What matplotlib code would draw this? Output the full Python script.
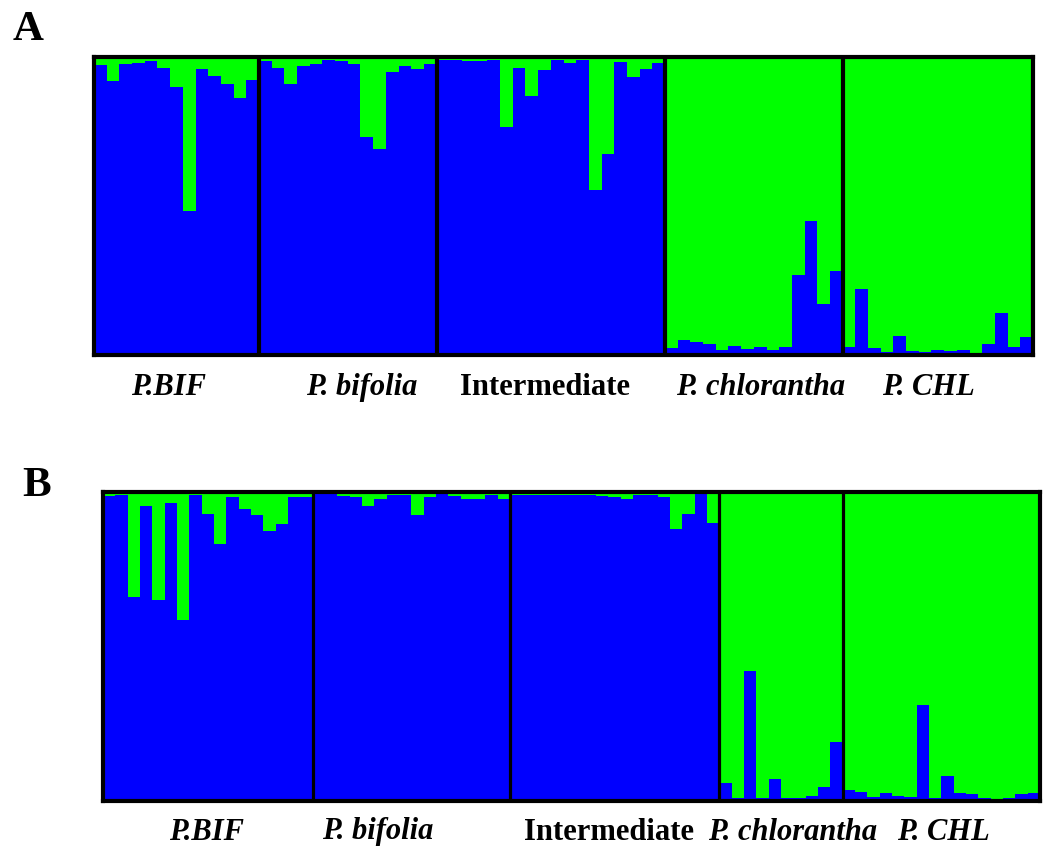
import numpy as np
import matplotlib
matplotlib.use("Agg")
import matplotlib.pyplot as plt

plt.rcParams["font.family"] = ["Liberation Serif", "DejaVu Serif"]

BLUE = "#0000FF"
GREEN = "#00FF00"

groups = ["P.BIF", "P. bifolia", "Intermediate", "P. chlorantha", "P. CHL"]
italic = [True, True, False, True, True]

# Panel A: green (cluster 2) membership per individual, by group
a_bif = [0.027, 0.08, 0.023, 0.02, 0.013, 0.037, 0.10, 0.516, 0.04, 0.064, 0.09, 0.137, 0.077]
a_bifolia = [0.013, 0.037, 0.09, 0.03, 0.023, 0.01, 0.013, 0.023, 0.268, 0.308, 0.05, 0.03, 0.04, 0.023]
a_inter = [0.01, 0.01, 0.013, 0.013, 0.01, 0.234, 0.037, 0.13, 0.044, 0.01, 0.02, 0.01,
           0.445, 0.325, 0.017, 0.067, 0.04, 0.02]
# blue membership for the green-dominated groups
a_chlor_blue = [0.022, 0.052, 0.042, 0.036, 0.016, 0.029, 0.019, 0.026, 0.016, 0.026,
                0.27, 0.448, 0.17, 0.281]
a_chl_blue = [0.026, 0.22, 0.022, 0.009, 0.0625, 0.012, 0.009, 0.016, 0.012, 0.016,
              0.006, 0.036, 0.14, 0.026, 0.059]

# Panel B
b_bif = [0.013, 0.01, 0.339, 0.046, 0.349, 0.036, 0.415, 0.01, 0.072, 0.168, 0.016,
         0.056, 0.076, 0.125, 0.105, 0.016, 0.016]
b_bifolia = [0.007, 0.007, 0.013, 0.016, 0.046, 0.023, 0.01, 0.01, 0.076, 0.016,
             0.007, 0.013, 0.023, 0.023, 0.01, 0.023]
b_inter = [0.01, 0.01, 0.01, 0.01, 0.01, 0.01, 0.01, 0.013, 0.016, 0.023, 0.01, 0.01,
           0.016, 0.119, 0.072, 0.007, 0.099]
b_chlor_blue = [0.058, 0.01, 0.42, 0.01, 0.071, 0.01, 0.01, 0.016, 0.045, 0.19]
b_chl_blue = [0.035, 0.029, 0.012, 0.025, 0.015, 0.012, 0.312, 0.009, 0.081, 0.025,
              0.022, 0.009, 0.005, 0.009, 0.022, 0.025]


def structure_panel(ax, green_groups, blue_groups, sep_lw):
    blue = []
    sizes = []
    for g in green_groups:
        blue += [1 - v for v in g]
        sizes.append(len(g))
    for g in blue_groups:
        blue += list(g)
        sizes.append(len(g))
    blue = np.array(blue)
    x = np.arange(len(blue))
    ax.bar(x, blue, width=1.0, color=BLUE, linewidth=0)
    ax.bar(x, 1 - blue, bottom=blue, width=1.0, color=GREEN, linewidth=0)
    ax.set_xlim(-0.5, len(blue) - 0.5)
    ax.set_ylim(0, 1)
    for b in np.cumsum(sizes)[:-1]:
        ax.axvline(b - 0.5, color="black", lw=sep_lw)
    ax.set_xticks([])
    ax.set_yticks([])
    for s in ax.spines.values():
        s.set_linewidth(3)
        s.set_color("black")


fig = plt.figure(figsize=(10.47, 8.48), dpi=100)
W, H = 1047, 848


def add_axes_px(x0, y0, x1, y1):
    return fig.add_axes([x0 / W, 1 - y1 / H, (x1 - x0) / W, (y1 - y0) / H])


axA = add_axes_px(94, 57, 1033, 355)
structure_panel(axA, [a_bif, a_bifolia, a_inter], [a_chlor_blue, a_chl_blue], 3)

axB = add_axes_px(103, 492, 1040, 801)
structure_panel(axB, [b_bif, b_bifolia, b_inter], [b_chlor_blue, b_chl_blue], 2.3)

label_x_a = [169, 362, 545, 761, 928]
label_x_b = [207, 378, 609, 793, 943]
for name, it, xa, xb in zip(groups, italic, label_x_a, label_x_b):
    st = "italic" if it else "normal"
    fig.text(xa / W, 1 - 388 / H, name, ha="center", va="center",
             fontsize=22, fontweight="bold", style=st)
    fig.text(xb / W, 1 - 832 / H, name, ha="center", va="center",
             fontsize=22, fontweight="bold", style=st)

fig.text(28 / W, 1 - 30 / H, "A", ha="center", va="center", fontsize=31, fontweight="bold")
fig.text(37 / W, 1 - 486 / H, "B", ha="center", va="center", fontsize=31, fontweight="bold")

fig.savefig("out.png", dpi=100)
